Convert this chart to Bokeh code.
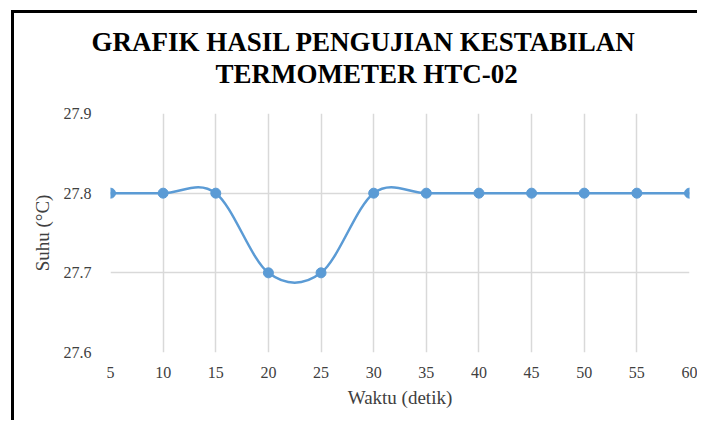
from bokeh.plotting import figure
from bokeh.models import Title, FixedTicker, CustomJSTickFormatter
from bokeh.embed import file_html
from bokeh.resources import INLINE

# ---- data ----
waktu = [5, 10, 15, 20, 25, 30, 35, 40, 45, 50, 55, 60]
suhu = [27.8, 27.8, 27.8, 27.7, 27.7, 27.8, 27.8, 27.8, 27.8, 27.8, 27.8, 27.8]
y_ticks = [27.6, 27.7, 27.8, 27.9]
title_lines = ["GRAFIK HASIL PENGUJIAN KESTABILAN", "TERMOMETER HTC-02"]
x_title = "Waktu (detik)"
y_title = "Suhu (°C)"

BLUE = "#5B9BD5"
GRID = "#D9D9D9"
TXT = "#404040"
SERIF = "Times New Roman, Liberation Serif, serif"

p = figure(width=686, height=410, output_backend="svg", toolbar_location=None,
           x_range=(5, 60), y_range=(27.6, 27.9),
           min_border_left=96, min_border_right=11,
           min_border_top=100, min_border_bottom=71)
p.styles = {"border-left": "3px solid black", "border-top": "3px solid black",
            "margin-left": "11px", "margin-top": "10px"}
p.outline_line_color = None
p.background_fill_color = "white"
p.border_fill_color = "white"

# smooth curve (Excel-style smoothing) from data via cubic Bezier segments
n = len(waktu)
x0, y0, x1, y1, cx0, cy0, cx1, cy1 = [], [], [], [], [], [], [], []
for i in range(n - 1):
    pm = i - 1 if i > 0 else i
    pp = i + 2 if i + 2 < n else i + 1
    x0.append(waktu[i]); y0.append(suhu[i])
    x1.append(waktu[i + 1]); y1.append(suhu[i + 1])
    cx0.append(waktu[i] + (waktu[i + 1] - waktu[pm]) / 6)
    cy0.append(suhu[i] + (suhu[i + 1] - suhu[pm]) / 6)
    cx1.append(waktu[i + 1] - (waktu[pp] - waktu[i]) / 6)
    cy1.append(suhu[i + 1] - (suhu[pp] - suhu[i]) / 6)
p.bezier(x0=x0, y0=y0, x1=x1, y1=y1, cx0=cx0, cy0=cy0, cx1=cx1, cy1=cy1,
         line_color=BLUE, line_width=2.5)
p.scatter(waktu, suhu, size=10, fill_color=BLUE, line_color=BLUE)

# grid
p.xgrid.ticker = FixedTicker(ticks=waktu)
p.ygrid.ticker = FixedTicker(ticks=y_ticks)
for g in (p.xgrid, p.ygrid):
    g.grid_line_color = GRID
    g.grid_line_width = 1.5

# axes
p.xaxis.ticker = FixedTicker(ticks=waktu)
p.yaxis.ticker = FixedTicker(ticks=y_ticks)
p.yaxis.formatter = CustomJSTickFormatter(code="return tick.toFixed(1);")
for ax in (p.xaxis, p.yaxis):
    ax.axis_line_color = None
    ax.major_tick_line_color = None
    ax.minor_tick_line_color = None
    ax.major_label_text_font = SERIF
    ax.major_label_text_font_size = "16px"
    ax.major_label_text_color = TXT
    ax.axis_label_text_font = SERIF
    ax.axis_label_text_font_size = "19px"
    ax.axis_label_text_font_style = "normal"
    ax.axis_label_text_color = TXT
p.xaxis.major_label_standoff = 8
p.yaxis.major_label_standoff = 13
p.xaxis.axis_label = x_title
p.yaxis.axis_label = y_title
p.xaxis.axis_label_standoff = 6
p.yaxis.axis_label_standoff = 8

# spacer between frame and title block, then the two title lines
p.add_layout(Title(text=" ", standoff=21, text_font_size="1px"), "above")
p.add_layout(Title(text=title_lines[1], align="left", offset=105, standoff=0,
                   vertical_align="middle",
                   text_font=SERIF, text_font_style="bold", text_font_size="27px",
                   text_color="#000000"), "above")
p.add_layout(Title(text=title_lines[0], align="left", offset=-19, standoff=0,
                   vertical_align="middle",
                   text_font=SERIF, text_font_style="bold", text_font_size="27px",
                   text_color="#000000"), "above")

open("out.html", "w").write(file_html(p, INLINE))
